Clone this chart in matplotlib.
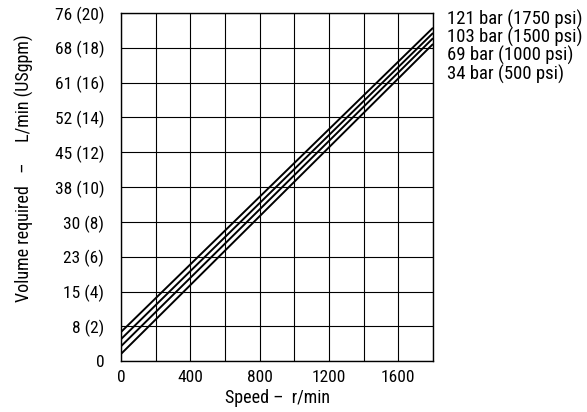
import matplotlib
matplotlib.use('Agg')
import matplotlib.pyplot as plt
import numpy as np

plt.rcParams['font.family'] = ['Roboto Condensed', 'DejaVu Sans']

# speed (r/min) end points and flow (USgpm) for each pressure line
speed = [0, 1800]
flow_121 = [1.68, 19.15]
flow_103 = [1.27, 18.85]
flow_69 = [0.86, 18.55]
flow_34 = [0.42, 18.22]
labels = ['121 bar (1750 psi)', '103 bar (1500 psi)', '69 bar (1000 psi)', '34 bar (500 psi)']

yticks = np.arange(0, 21, 2)
ytick_labels = ['0', '8 (2)', '15 (4)', '23 (6)', '30 (8)', '38 (10)', '45 (12)',
                '52 (14)', '61 (16)', '68 (18)', '76 (20)']
xgrid = np.arange(0, 1801, 200)
xtick_labels = ['0', '', '400', '', '800', '', '1200', '', '1600', '']

fig = plt.figure(figsize=(5.87, 4.12), dpi=100)
ax = fig.add_axes([0.2061, 0.1231, 0.5316, 0.8454])

for fl in [flow_121, flow_103, flow_69, flow_34]:
    ax.plot(speed, fl, color='black', lw=1.4, solid_capstyle='butt')

ax.set_xlim(0, 1800)
ax.set_ylim(0, 20)
ax.set_xticks(xgrid)
ax.set_xticklabels(xtick_labels)
ax.set_yticks(yticks)
ax.set_yticklabels(ytick_labels)
ax.grid(True, color='black', lw=0.8)
ax.tick_params(length=0, labelsize=12.5)
ax.tick_params(axis='y', pad=12)
ax.tick_params(axis='x', pad=6)
for s in ax.spines.values():
    s.set_linewidth(1.0)

ax.set_xlabel('Speed \u2013  r/min', fontsize=13, labelpad=3)
fig.text(24 / 587, 1 - 168 / 412, 'Volume required   \u2013     L/min (USgpm)',
         rotation=90, fontsize=13, ha='center', va='center')

label_y = [0.982, 0.93, 0.877, 0.824]
for lab, yy in zip(labels, label_y):
    ax.text(1.045, yy, lab, transform=ax.transAxes, fontsize=13.5, va='center', ha='left')

fig.savefig('out.png', dpi=100)
